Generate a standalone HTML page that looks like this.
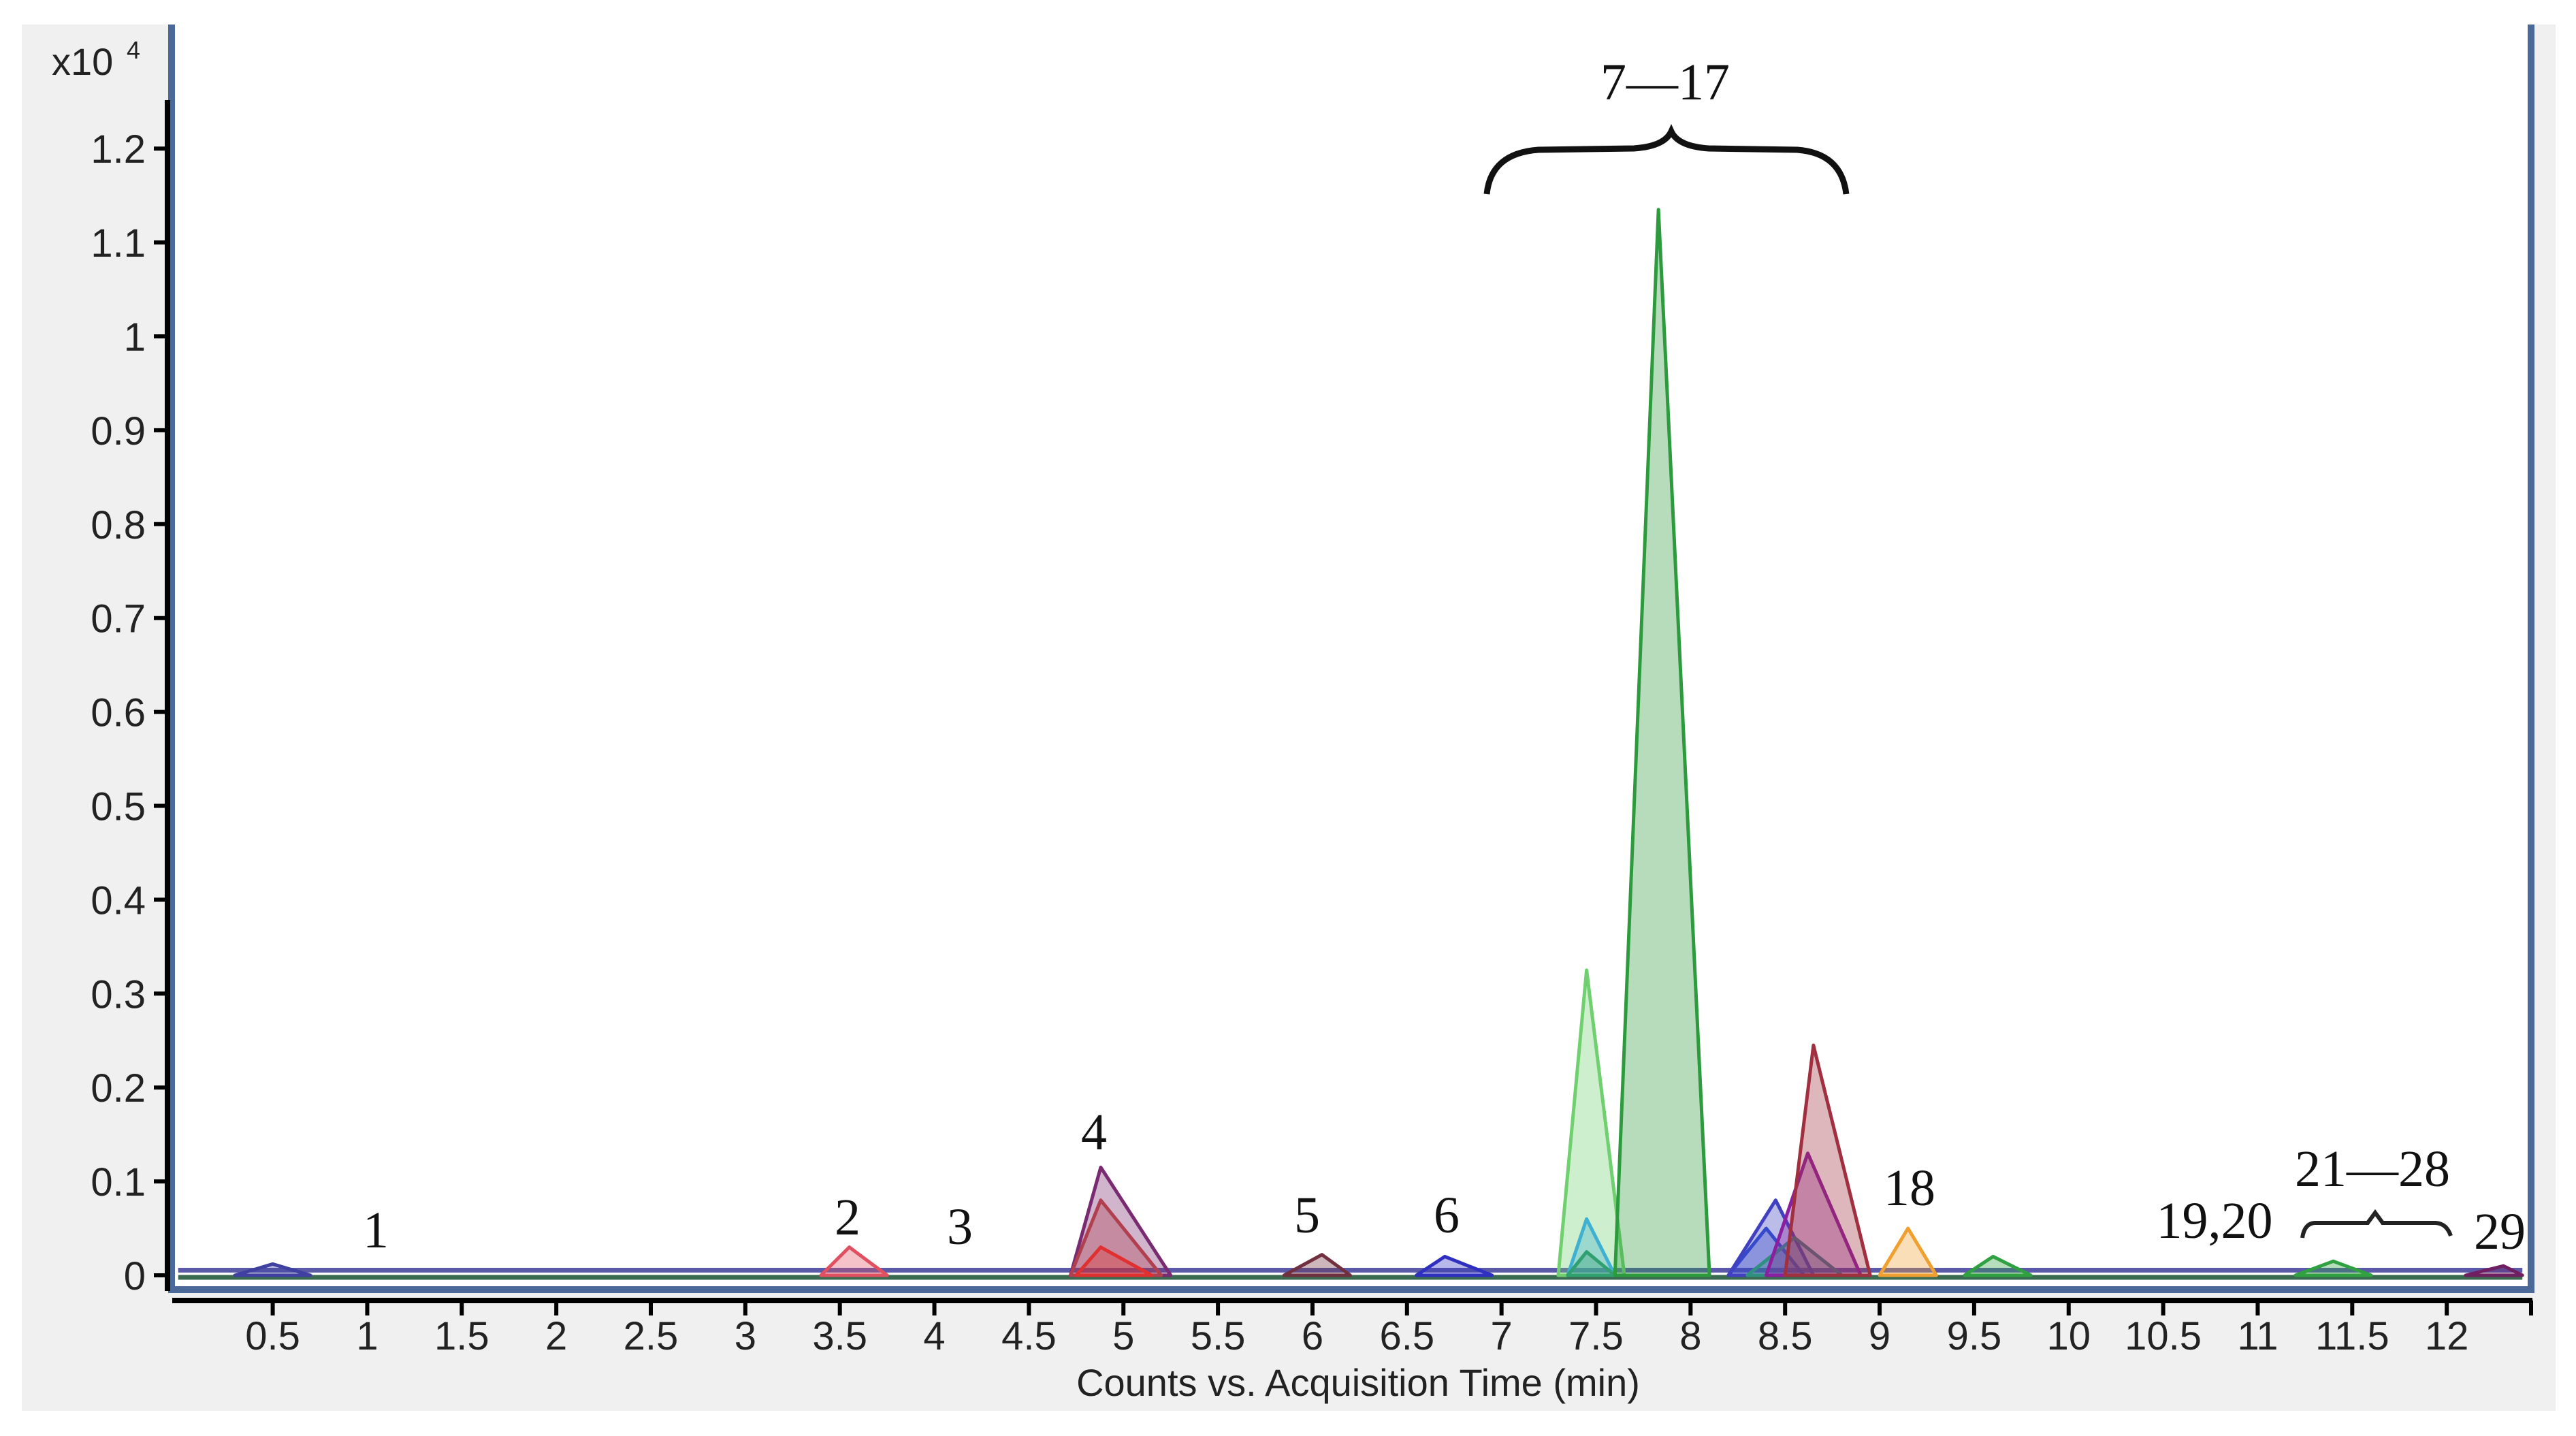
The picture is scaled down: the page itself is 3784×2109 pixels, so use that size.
<!DOCTYPE html>
<html><head><meta charset="utf-8">
<style>
html,body{margin:0;padding:0;background:#fff;}
body{width:3784px;height:2104px;position:relative;overflow:hidden;font-family:"Liberation Sans",sans-serif;}
</style></head>
<body>
<svg id="chart" width="3784" height="2104" viewBox="0 0 3784 2104" xmlns="http://www.w3.org/2000/svg">
<rect x="32" y="36" width="3722" height="2036" fill="#f0f0f0"/>
<rect x="252" y="36" width="3466" height="1858" fill="#ffffff"/>
<path d="M252 36 V1894 H3718 V36" fill="none" stroke="#4a6898" stroke-width="10"/>
<g id="axes"></g>
<g id="marks"></g>
<g id="labels" font-family="Liberation Serif, serif" font-size="76" fill="#111" text-anchor="middle">
<text x="552" y="1832">1</text>
<text x="1245" y="1813">2</text>
<text x="1410" y="1827">3</text>
<text x="1607" y="1688">4</text>
<text x="1920" y="1810">5</text>
<text x="2125" y="1810">6</text>
<text x="2446" y="146">7—17</text>
<text x="2805" y="1770">18</text>
<text x="3253" y="1818">19,20</text>
<text x="3485" y="1742">21—28</text>
<text x="3672" y="1834">29</text>
<path d="M2184 285 Q2190 225 2260 220 L2400 218 Q2445 215 2455 193 Q2465 215 2510 218 L2640 220 Q2705 225 2712 285" fill="none" stroke="#111" stroke-width="9"/>
<path d="M3382 1818 Q3385 1797 3400 1796 L3478 1796 L3489 1781 L3500 1796 L3578 1796 Q3594 1797 3600 1815" fill="none" stroke="#222" stroke-width="6"/>
</g>
</svg>
<script>
// Data (intensity in x10^4 counts, time in min)
const yTicks=[0,0.1,0.2,0.3,0.4,0.5,0.6,0.7,0.8,0.9,1,1.1,1.2];
const yTickLabels=["0","0.1","0.2","0.3","0.4","0.5","0.6","0.7","0.8","0.9","1","1.1","1.2"];
const xTicks=[0.5,1,1.5,2,2.5,3,3.5,4,4.5,5,5.5,6,6.5,7,7.5,8,8.5,9,9.5,10,10.5,11,11.5,12];
const peakTimes=[0.5,3.55,4.88,4.88,4.88,6.05,6.7,7.45,7.45,7.45,7.83,8.4,8.45,8.55,8.62,8.65,9.15,9.6,11.4,12.3];
const peakHeights=[0.012,0.03,0.115,0.08,0.03,0.022,0.02,0.325,0.06,0.025,1.135,0.05,0.08,0.04,0.13,0.245,0.05,0.02,0.015,0.01];
const peakStarts=[0.3,3.4,4.72,4.72,4.75,5.85,6.55,7.3,7.35,7.35,7.6,8.2,8.2,8.3,8.4,8.5,9.0,9.45,11.2,12.1];
const peakEnds=[0.7,3.75,5.25,5.2,5.15,6.2,6.95,7.65,7.6,7.6,8.1,8.6,8.65,8.8,8.9,8.95,9.3,9.8,11.6,12.4];
const peakColors=["#4040a0","#e05060","#7a2a70","#b04050","#e03030","#703040","#3030c0","#70d070","#40b0d0","#30a070","#2e9a3e","#3050d0","#4040c0","#309080","#8a20a0","#a03040","#f0a030","#30a040","#30a040","#702060"];
const baselineTimes=[0.0,12.4];
const baselineValue=[0.008,0.008];

const X0=400.6,XS=277.7,Y0=1873,YS=1379;
const xs=t=>X0+(t-0.5)*XS, ys=v=>Y0-v*YS;
const NS="http://www.w3.org/2000/svg";
const axes=document.getElementById('axes'), marks=document.getElementById('marks');
function mk(tag,attrs,parent){const e=document.createElementNS(NS,tag);for(const k in attrs)e.setAttribute(k,attrs[k]);parent.appendChild(e);return e;}

let e=mk('line',{x1:246,y1:147,x2:246,y2:1896,stroke:'#000','stroke-width':8},axes);


e=mk('line',{x1:253,y1:1910,x2:3720,y2:1910,stroke:'#000','stroke-width':8},axes);


yTicks.forEach((v,i)=>{
  const y=ys(v);
  let t=mk('line',{x1:226,y1:y,x2:246,y2:y,stroke:'#000','stroke-width':6},axes);
  
  
  let l=mk('text',{x:214,y:y+21,'text-anchor':'end','font-size':58,fill:'#222'},axes);
  
  
  l.textContent=yTickLabels[i];
});
xTicks.forEach(v=>{
  const x=xs(v);
  let t=mk('line',{x1:x,y1:1910,x2:x,y2:1932,stroke:'#000','stroke-width':6},axes);
  
  
  let l=mk('text',{x:x,y:1982,'text-anchor':'middle','font-size':58,fill:'#222'},axes);
  
  
  l.textContent=String(v);
});
e=mk('line',{x1:3718,y1:1910,x2:3718,y2:1932,stroke:'#000','stroke-width':6},axes);


e=mk('text',{x:1995,y:2050,'text-anchor':'middle','font-size':56,fill:'#222'},axes);


e.textContent='Counts vs. Acquisition Time (min)';
e=mk('text',{x:76,y:110,'font-size':56,fill:'#222'},axes);


e.textContent='x10';
e=mk('text',{x:186,y:86,'font-size':36,fill:'#222'},axes);


e.textContent='4';

e=mk('rect',{x:xs(baselineTimes[0]),y:ys(baselineValue[0]),width:xs(baselineTimes[1])-xs(baselineTimes[0]),height:7,fill:'#5a5aa8'},marks);


e=mk('line',{x1:xs(baselineTimes[0]),y1:Y0+3,x2:xs(baselineTimes[1]),y2:Y0+3,stroke:'#3a6a50','stroke-width':7},marks);



peakTimes.forEach((t,i)=>{
  const c=peakColors[i];
  const pts=`${xs(peakStarts[i])},${Y0} ${xs(t)},${ys(peakHeights[i])} ${xs(peakEnds[i])},${Y0}`;
  let p=mk('polygon',{points:pts,fill:c,'fill-opacity':0.35,stroke:c,'stroke-width':5,'stroke-linejoin':'round'},marks);
  
  
});
</script>
</body></html>
